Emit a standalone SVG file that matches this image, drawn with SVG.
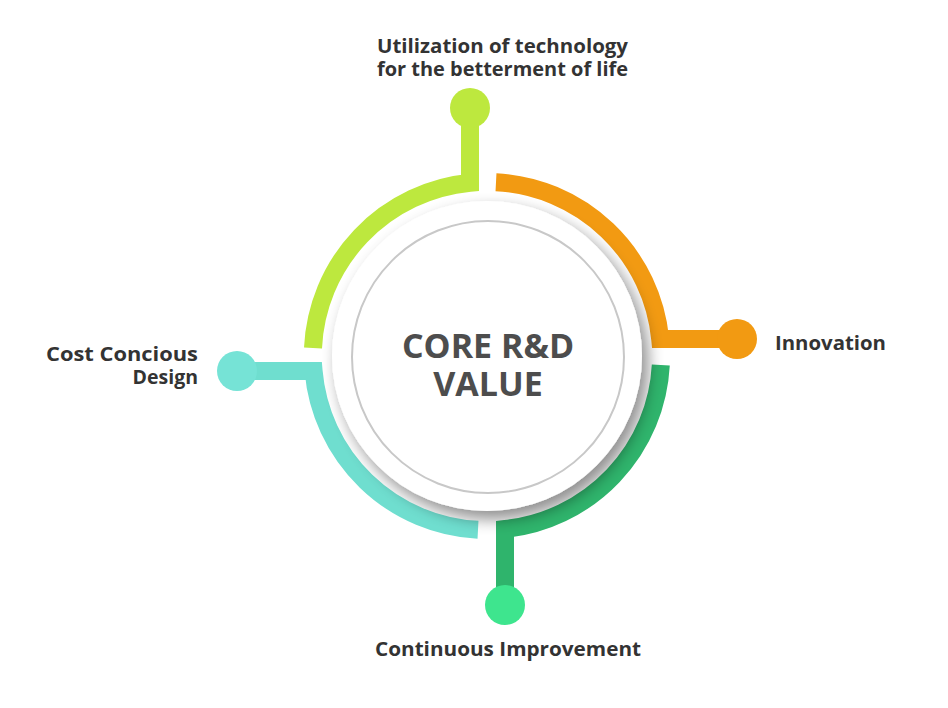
<svg xmlns="http://www.w3.org/2000/svg" width="948" height="708" viewBox="0 0 948 708">
<defs>
<style>
.arc{fill:none;stroke-width:18;stroke-linecap:butt;stroke-linejoin:miter}
.lbl{font-family:"Open Sans","Liberation Sans",sans-serif;font-weight:bold;font-size:19.5px;fill:#333}
.core{font-family:"Open Sans","Liberation Sans",sans-serif;font-weight:bold;font-size:34px;fill:#4d4d4d;text-anchor:middle}
</style>
<filter id="sh" x="-30%" y="-30%" width="160%" height="160%">
<feGaussianBlur in="SourceAlpha" stdDeviation="8"/>
<feOffset dx="6" dy="8"/>
<feComponentTransfer><feFuncA type="linear" slope="0.45"/></feComponentTransfer>
<feMerge><feMergeNode/><feMergeNode in="SourceGraphic"/></feMerge>
</filter>
</defs>
<rect width="948" height="708" fill="#fff"/>
<g id="connectors">
<path class="arc" stroke="#bde83e" d="M313,348 A174,174 0 0 1 470,182.8 L470,108"/>
<path class="arc" stroke="#f29a12" d="M496,182.2 A174,174 0 0 1 660.2,339 L737,339"/>
<path class="arc" stroke="#2fb46c" d="M660.8,365 A174,174 0 0 1 505,529 L505,605"/>
<path class="arc" stroke="#6fdecf" d="M478,529.8 A174,174 0 0 1 313.6,371 L237,371"/>
</g>
<g id="node-lime"><circle cx="470" cy="108" r="20" fill="#bde83e"/>
<text class="lbl" x="377" y="53" textLength="251" lengthAdjust="spacingAndGlyphs">Utilization of technology</text>
<text class="lbl" x="377" y="76" textLength="251" lengthAdjust="spacingAndGlyphs">for the betterment of life</text></g>
<g id="node-orange"><circle cx="737" cy="339" r="20" fill="#f29a12"/>
<text class="lbl" x="775" y="350" textLength="111" lengthAdjust="spacingAndGlyphs">Innovation</text></g>
<g id="node-green"><circle cx="505" cy="605" r="20" fill="#3ee58e"/>
<text class="lbl" x="375" y="656" textLength="266" lengthAdjust="spacingAndGlyphs">Continuous Improvement</text></g>
<g id="node-teal"><circle cx="237" cy="371" r="20" fill="#76e3d6"/>
<text class="lbl" x="46" y="361" textLength="152" lengthAdjust="spacingAndGlyphs">Cost Concious</text>
<text class="lbl" x="198" y="384" text-anchor="end">Design</text></g>
<g id="node-core">
<circle cx="487" cy="356" r="155" fill="#fff" filter="url(#sh)"/>
<circle cx="488" cy="357" r="136" fill="#fff" stroke="#c8c8c8" stroke-width="2"/>
<text class="core" x="488" y="358">CORE R&amp;D</text>
<text class="core" x="488" y="396">VALUE</text>
</g>
</svg>
